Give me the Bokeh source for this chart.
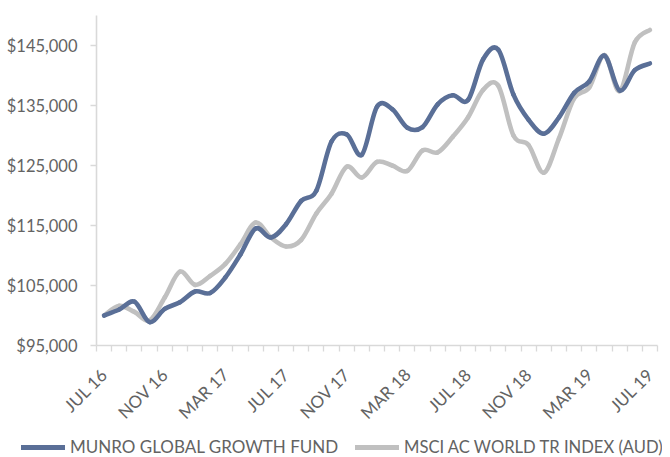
import math
from bokeh.plotting import figure
from bokeh.models import (FixedTicker, NumeralTickFormatter, Legend, LegendItem,
                          Range1d, ColumnDataSource)
from bokeh.embed import file_html
from bokeh.resources import INLINE

# ---------------- data ----------------
months = ["JUL 16", "AUG 16", "SEP 16", "OCT 16", "NOV 16", "DEC 16",
          "JAN 17", "FEB 17", "MAR 17", "APR 17", "MAY 17", "JUN 17",
          "JUL 17", "AUG 17", "SEP 17", "OCT 17", "NOV 17", "DEC 17",
          "JAN 18", "FEB 18", "MAR 18", "APR 18", "MAY 18", "JUN 18",
          "JUL 18", "AUG 18", "SEP 18", "OCT 18", "NOV 18", "DEC 18",
          "JAN 19", "FEB 19", "MAR 19", "APR 19", "MAY 19", "JUN 19",
          "JUL 19"]

fund = [100000, 101000, 102300, 98900, 101100, 102200, 104000, 103750,
        106350, 110200, 114500, 113000, 115200, 119100, 120800, 129000,
        130200, 126800, 134800, 134400, 131300, 131400, 135200, 136700,
        135900, 142700, 144300, 136800, 132600, 130300, 133000, 137100,
        139000, 143300, 137500, 140900, 142000]

msci = [100000, 101600, 100600, 99200, 103000, 107300, 105100, 106600,
        108600, 111900, 115500, 113000, 111500, 112600, 117000, 120300,
        124800, 123000, 125600, 125000, 124100, 127500, 127200, 129800,
        133000, 137600, 138300, 130000, 128400, 123800, 129500, 136200,
        138000, 143400, 137400, 145500, 147600]

tick_labels = ["JUL 16", "NOV 16", "MAR 17", "JUL 17", "NOV 17",
               "MAR 18", "JUL 18", "NOV 18", "MAR 19", "JUL 19"]

y_ticks = [95000, 105000, 115000, 125000, 135000, 145000]

series_names = ["MUNRO GLOBAL GROWTH FUND", "MSCI AC WORLD TR INDEX (AUD)"]
series_colors = ["#5a6f97", "#c0c0c0"]
series_values = [fund, msci]

# ---------------- helpers ----------------
FONT = "Lato"
TXT = "#636363"
AX = "#d9d9d9"


def smooth_segments(xs, ys):
    """Catmull-Rom style bezier segments through the data points."""
    n = len(xs)
    d = dict(x0=[], y0=[], x1=[], y1=[], cx0=[], cy0=[], cx1=[], cy1=[])
    for i in range(n - 1):
        a = max(i - 1, 0)
        b = min(i + 2, n - 1)
        d["x0"].append(xs[i]); d["y0"].append(ys[i])
        d["x1"].append(xs[i + 1]); d["y1"].append(ys[i + 1])
        d["cx0"].append(xs[i] + (xs[i + 1] - xs[a]) / 6.0)
        d["cy0"].append(ys[i] + (ys[i + 1] - ys[a]) / 6.0)
        d["cx1"].append(xs[i + 1] - (xs[b] - xs[i]) / 6.0)
        d["cy1"].append(ys[i + 1] - (ys[b] - ys[i]) / 6.0)
    return ColumnDataSource(d)


xs = list(range(len(months)))

p = figure(width=662, height=436,
           x_range=Range1d(-0.5, len(months) - 0.5),
           y_range=Range1d(95000, 150000),
           output_backend="svg", toolbar_location=None,
           min_border_left=96, min_border_right=5,
           min_border_top=15, min_border_bottom=91)

p.outline_line_color = None
p.xgrid.visible = False
p.ygrid.visible = False
p.background_fill_color = "white"
p.border_fill_color = "white"

for vals, col in [(msci, series_colors[1]), (fund, series_colors[0])]:
    src = smooth_segments(xs, vals)
    p.bezier(x0="x0", y0="y0", x1="x1", y1="y1", cx0="cx0", cy0="cy0",
             cx1="cx1", cy1="cy1", source=src, line_color=col,
             line_width=4.6, line_cap="round")

# x axis
xa = p.xaxis[0]
tick_pos = [months.index(t) for t in tick_labels]
xa.ticker = FixedTicker(ticks=tick_pos,
                        minor_ticks=[i - 0.5 for i in range(len(months) + 1)])
xa.major_label_overrides = {pos: lab for pos, lab in zip(tick_pos, tick_labels)}
xa.major_tick_out = 0
xa.major_tick_in = 0
xa.minor_tick_out = 6
xa.minor_tick_in = 0
xa.minor_tick_line_color = AX
xa.minor_tick_line_width = 1.3
xa.axis_line_color = AX
xa.axis_line_width = 1.6
xa.major_label_orientation = math.pi / 4
xa.major_label_standoff = 20
xa.major_label_text_font = FONT
xa.major_label_text_font_size = "17px"
xa.major_label_text_color = TXT

# y axis
ya = p.yaxis[0]
ya.ticker = FixedTicker(ticks=y_ticks)
ya.formatter = NumeralTickFormatter(format="$0,0")
ya.major_tick_out = 6
ya.major_tick_in = 0
ya.major_tick_line_color = AX
ya.major_tick_line_width = 1.3
ya.minor_tick_out = 0
ya.minor_tick_in = 0
ya.axis_line_color = AX
ya.axis_line_width = 1.6
ya.major_label_standoff = 13
ya.major_label_text_font = FONT
ya.major_label_text_font_size = "16.5px"
ya.major_label_text_color = TXT

# ---------------- legend strip ----------------
# the series lines drawn here fall outside this strip's ranges; they only
# supply the legend samples
lp = figure(width=662, height=21, x_range=Range1d(0, 1), y_range=Range1d(0, 1),
            output_backend="svg", toolbar_location=None,
            x_axis_location=None, y_axis_location=None,
            min_border_left=0, min_border_right=0, min_border_top=0,
            min_border_bottom=0)
lp.grid.visible = False
lp.outline_line_color = None
lp.background_fill_color = "white"
lp.border_fill_color = "white"

dummy = {}
for name, col, vals in zip(series_names, series_colors, series_values):
    dummy[name] = lp.line(x=xs, y=vals, line_color=col, line_width=5,
                          line_cap="round")

for name, loc, fs in zip(series_names, [(21, 0), (355, 0)], ["17px", "16.6px"]):
    lg = Legend(items=[LegendItem(label=name, renderers=[dummy[name]])],
                location=loc, orientation="horizontal",
                glyph_width=44, glyph_height=20, label_height=20,
                label_standoff=5, padding=0, margin=0, spacing=0,
                border_line_color=None, background_fill_alpha=0,
                label_text_font=FONT, label_text_font_size=fs,
                label_text_color=TXT)
    lp.add_layout(lg, "center")

open("out.html", "w").write(file_html([p, lp], INLINE))
